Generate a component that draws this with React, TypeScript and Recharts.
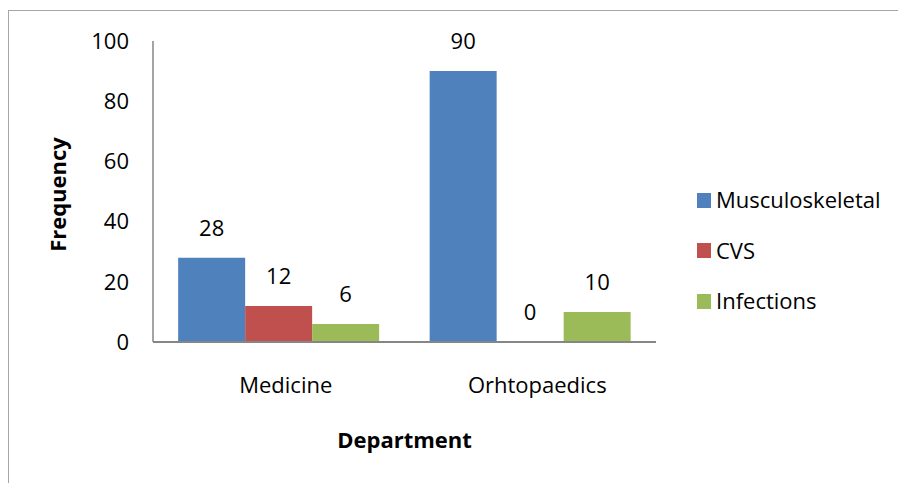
import { BarChart, Bar, XAxis, YAxis, Legend, LabelList, Label, Rectangle } from "recharts";

const departments = ["Medicine", "Orhtopaedics"];
const musculoskeletal = [28, 90];
const cvs = [12, 0];
const infections = [6, 10];
const yTicks = [0, 20, 40, 60, 80, 100];

const seriesNames = ["Musculoskeletal", "CVS", "Infections"];
const seriesColors = ["#4F81BD", "#C0504D", "#9BBB59"];

const data = departments.map((d, i) => ({
  name: d,
  musculoskeletal: musculoskeletal[i],
  cvs: cvs[i],
  infections: infections[i]
}));

const FONT = "'Open Sans', sans-serif";

function LegendBox() {
  return (
    <div style={{ fontFamily: FONT, fontSize: 22, color: "#000", paddingLeft: 41 }}>
      {seriesNames.map((n, i) => (
        <div key={n} style={{ height: 50.5, display: "flex", alignItems: "center", whiteSpace: "nowrap" }}>
          <span
            style={{
              display: "inline-block",
              flexShrink: 0,
              width: 14,
              height: 15,
              background: seriesColors[i],
              marginRight: 5
            }}
          />
          <span style={{ lineHeight: "22px", position: "relative", top: -1 }}>{n}</span>
        </div>
      ))}
    </div>
  );
}

// zero-value bars still need a label, so give them a hairline size and skip drawing them
const barShape = (props: any) => (props.height < 0.5 ? <g /> : <Rectangle {...props} />);
const zeroSize = (v: any) => (v === 0 ? 0.01 : 0);

export default function App() {
  return (
    <div style={{ position: "absolute", left: 0, top: 0, width: 898, height: 483, background: "#fff" }}>
      {/* chart frame: only the left and top edges are in view */}
      <div
        style={{
          position: "absolute",
          left: 8,
          top: 10,
          width: 900,
          height: 480,
          borderLeft: "1.5px solid #a6a6a6",
          borderTop: "1.5px solid #a6a6a6"
        }}
      />
      <div style={{ position: "absolute", left: 0, top: 0 }}>
        <BarChart
          width={898}
          height={483}
          data={data}
          margin={{ top: 41, right: 2, bottom: 111, left: 93 }}
          barCategoryGap="10%"
          barGap={0}
        >
          <XAxis
            dataKey="name"
            height={30}
            tickLine={false}
            tickSize={0}
            tickMargin={35}
            axisLine={{ stroke: "#868686", strokeWidth: 2 }}
            tick={{ fill: "#000", fontSize: 22, fontFamily: FONT, dx: 7 }}
          >
            <Label
              value="Department"
              position="bottom"
              offset={60}
              style={{ fill: "#000", fontSize: 22, fontWeight: 700, fontFamily: FONT }}
            />
          </XAxis>
          <YAxis
            width={60}
            domain={[0, 100]}
            ticks={yTicks}
            tickLine={false}
            tickSize={0}
            tickMargin={24}
            axisLine={{ stroke: "#868686", strokeWidth: 1.5 }}
            tick={{ fill: "#000", fontSize: 22, fontFamily: FONT }}
          >
            <Label
              content={({ viewBox }: any) => {
                const cx = viewBox.x - 36;
                const cy = viewBox.y + viewBox.height / 2 + 3;
                return (
                  <text
                    x={cx}
                    y={cy}
                    transform={`rotate(-90, ${cx}, ${cy})`}
                    textAnchor="middle"
                    dominantBaseline="central"
                    style={{ fill: "#000", fontSize: 22, fontWeight: 700, fontFamily: FONT }}
                  >
                    Frequency
                  </text>
                );
              }}
            />
          </YAxis>
          <Legend
            layout="vertical"
            align="right"
            verticalAlign="middle"
            content={() => <LegendBox />}
            wrapperStyle={{ top: 175, right: 2, width: 240 }}
          />
          {["musculoskeletal", "cvs", "infections"].map((k, i) => (
            <Bar
              key={k}
              dataKey={k}
              name={seriesNames[i]}
              fill={seriesColors[i]}
              minPointSize={zeroSize}
              shape={barShape}
              isAnimationActive={false}
            >
              <LabelList
                dataKey={k}
                position="top"
                offset={22}
                formatter={(v: any) => String(v)}
                style={{ fill: "#000", fontSize: 22, fontFamily: FONT }}
              />
            </Bar>
          ))}
        </BarChart>
      </div>
    </div>
  );
}
